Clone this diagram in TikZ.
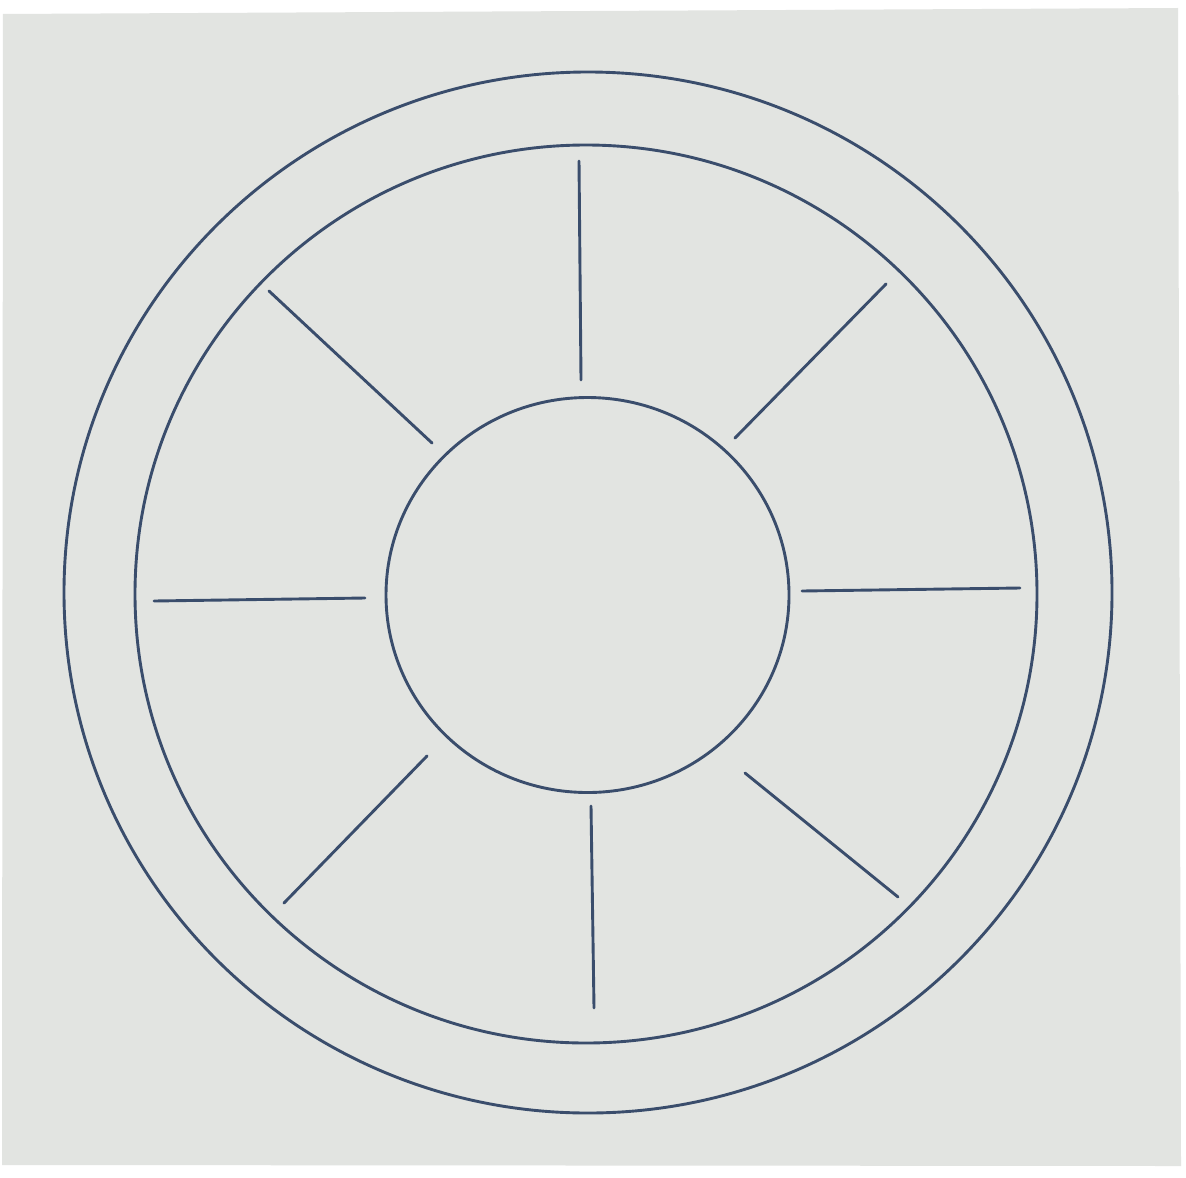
\documentclass[tikz,border=0pt]{standalone}
\definecolor{paper}{HTML}{E2E4E1}
\definecolor{ink}{HTML}{3A4D6C}
\begin{document}
\begin{tikzpicture}[x=0.5pt,y=-0.5pt,
  ring/.style={draw=ink,line width=1.45pt},
  spoke/.style={draw=ink,line width=1.45pt,line cap=round}]
\useasboundingbox (0,0) rectangle (1186,1177);
\fill[white] (0,0) rectangle (1186,1177);
\fill[paper] (3,14) -- (1178,8) -- (1181,1166) -- (2,1165) -- cycle;
% rings
\coordinate (c) at (588,593);
\draw[ring] (588,592.5) ellipse [x radius=524, y radius=520.5];
\draw[ring] (586,594) ellipse [x radius=451, y radius=449];
\draw[ring] (587.5,595) ellipse [x radius=201.5, y radius=197.5];
% spokes
\coordinate (t1) at (579,161); \coordinate (t2) at (581,380);
\coordinate (tr1) at (886,284); \coordinate (tr2) at (735,438);
\coordinate (r1) at (802,591); \coordinate (r2) at (1020,588);
\coordinate (br1) at (745,773); \coordinate (br2) at (898,897);
\coordinate (b1) at (591,806); \coordinate (b2) at (594,1008);
\coordinate (bl1) at (427,756); \coordinate (bl2) at (284,903);
\coordinate (l1) at (154,601); \coordinate (l2) at (365,598);
\coordinate (tl1) at (269,291); \coordinate (tl2) at (432,443);
\draw[spoke] (t1) -- (t2);
\draw[spoke] (tr1) -- (tr2);
\draw[spoke] (r1) -- (r2);
\draw[spoke] (br1) -- (br2);
\draw[spoke] (b1) -- (b2);
\draw[spoke] (bl1) -- (bl2);
\draw[spoke] (l1) -- (l2);
\draw[spoke] (tl1) -- (tl2);
\end{tikzpicture}
\end{document}
